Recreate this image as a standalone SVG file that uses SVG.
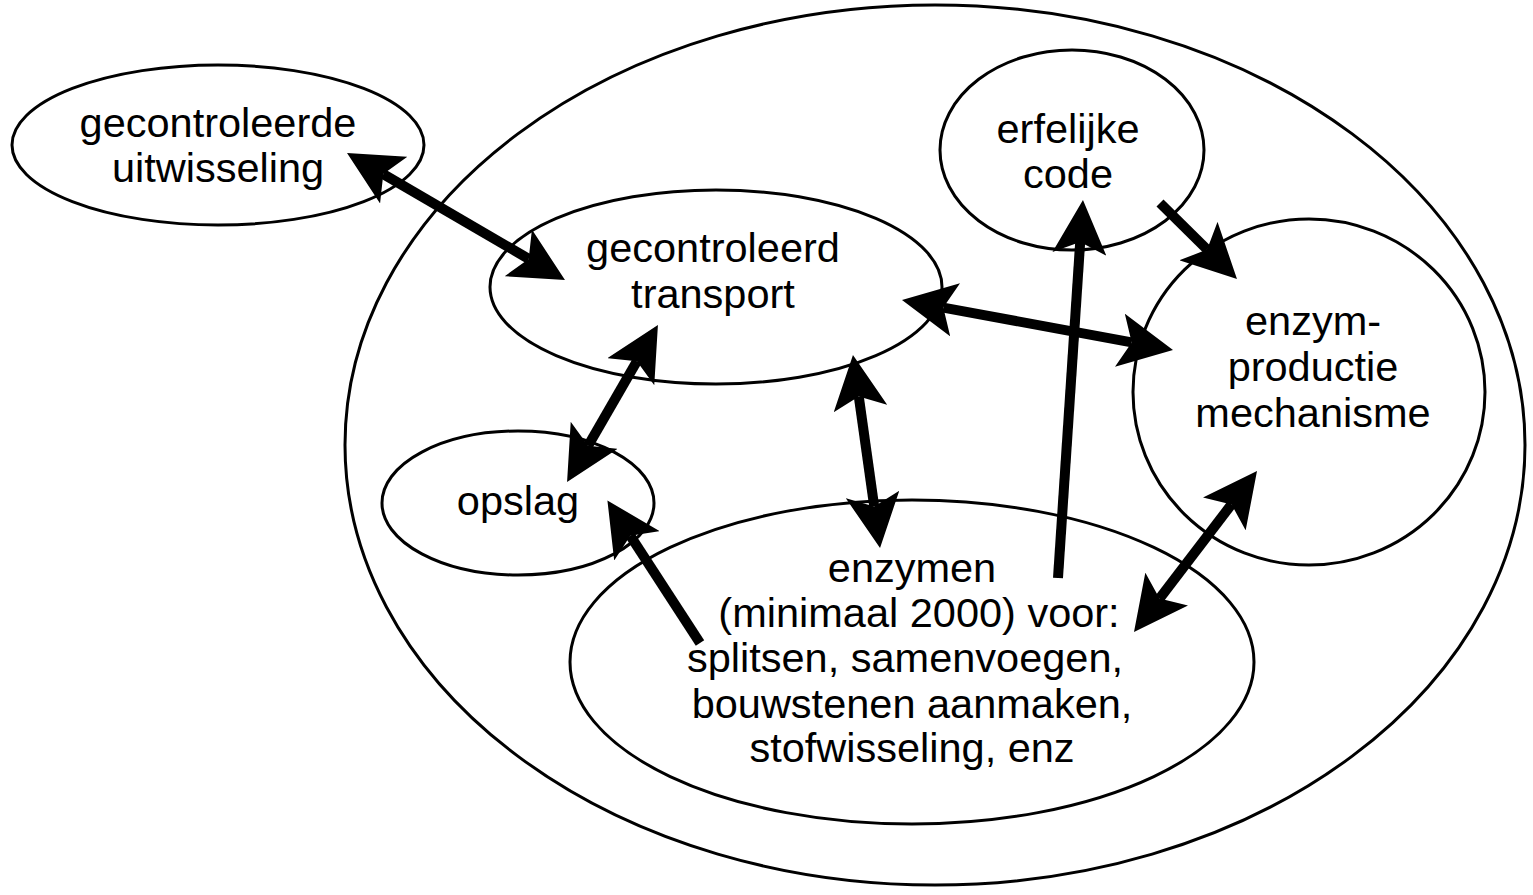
<svg xmlns="http://www.w3.org/2000/svg" width="1533" height="895" viewBox="0 0 1533 895">
<style>
.n{fill:#fff;stroke:#000;stroke-width:3}
.o{fill:none;stroke:#000;stroke-width:3}
text{font-family:"Liberation Sans",Arial,sans-serif;font-size:41.5px;fill:#000;text-anchor:middle}
.c line{stroke:#000;stroke-width:10}
.d{marker-end:url(#ah)}
.b{marker-start:url(#ah);marker-end:url(#ah)}
</style>
<defs>
<marker id="ah" markerUnits="userSpaceOnUse" viewBox="0 0 54 54" refX="12" refY="27" markerWidth="54" markerHeight="54" orient="auto-start-reverse">
<path d="M0,0 L54,27 L0,54 L12,27 Z" fill="#000"/>
</marker>
</defs>
<rect width="1533" height="895" fill="#fff"/>
<g id="cell"><ellipse class="o" cx="935" cy="445" rx="590" ry="440"/></g>
<g id="uitwisseling"><ellipse class="n" cx="218" cy="145" rx="206" ry="80"/><text x="218" y="137">gecontroleerde</text><text x="218" y="182">uitwisseling</text></g>
<g id="transport"><ellipse class="n" cx="716" cy="287" rx="226" ry="97"/><text x="713" y="262">gecontroleerd</text><text x="713" y="308">transport</text></g>
<g id="code"><ellipse class="n" cx="1072" cy="150" rx="132" ry="100"/><text x="1068" y="143">erfelijke</text><text x="1068" y="188">code</text></g>
<g id="productie"><ellipse class="n" cx="1309" cy="392" rx="176" ry="173"/><text x="1313" y="335">enzym-</text><text x="1313" y="381">productie</text><text x="1313" y="427">mechanisme</text></g>
<g id="opslag"><ellipse class="n" cx="518" cy="503" rx="136" ry="72"/><text x="518" y="515">opslag</text></g>
<g id="enzymen"><ellipse class="n" cx="912" cy="662" rx="342" ry="162"/><text x="912" y="582">enzymen</text><text x="919" y="627">(minimaal 2000) voor:</text><text x="905" y="672">splitsen, samenvoegen,</text><text x="912" y="718">bouwstenen aanmaken,</text><text x="912" y="762">stofwisseling, enz</text></g>
<g class="c" id="connectors">
<line class="b" x1="383.3" y1="174.1" x2="528.7" y2="258.9"/>
<line class="b" x1="636.9" y1="361.3" x2="588.1" y2="445.7"/>
<line class="b" x1="858.8" y1="396.6" x2="874.2" y2="506.4"/>
<line class="d" x1="1058" y1="578" x2="1080.2" y2="241.9"/>
<line class="d" x1="1160" y1="203" x2="1207.1" y2="249.5"/>
<line class="b" x1="943.3" y1="307.6" x2="1131.7" y2="342.4"/>
<line class="d" x1="700" y1="643" x2="630.3" y2="535.7"/>
<line class="b" x1="1231.5" y1="504.4" x2="1159.5" y2="598.6"/>
</g>
</svg>
